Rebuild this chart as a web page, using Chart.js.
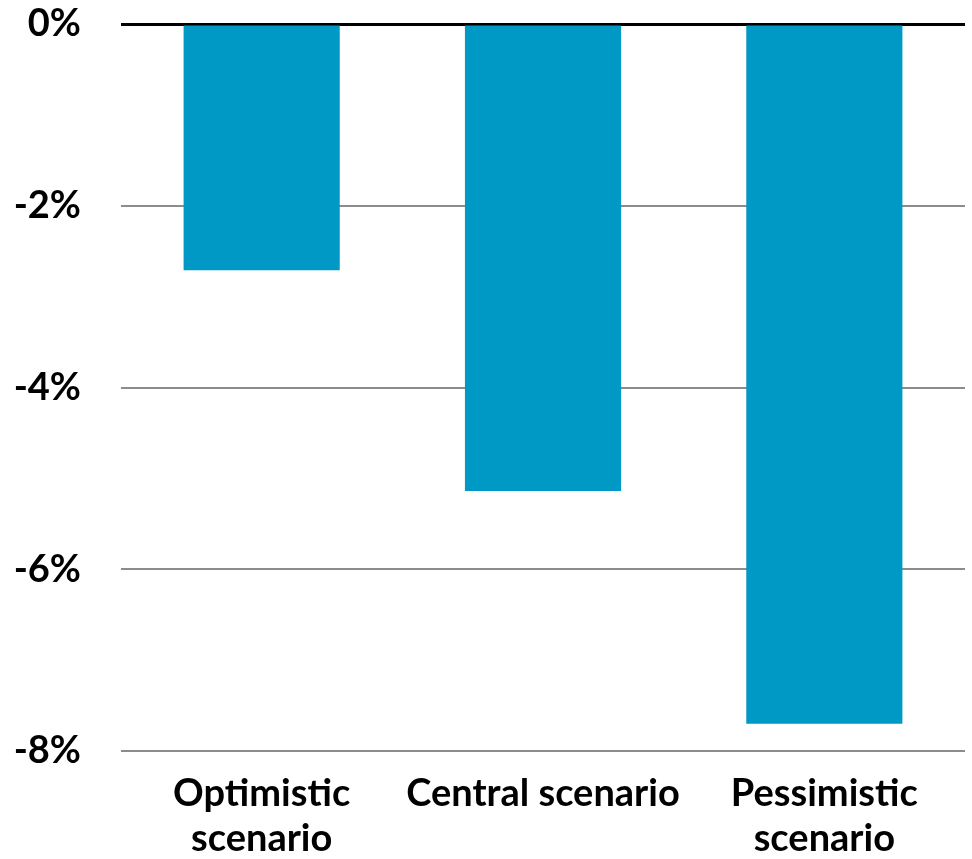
<!DOCTYPE html>
<html>
<head>
<meta charset="utf-8">
<script src="https://cdn.jsdelivr.net/npm/chart.js@4"></script>
<style>
  html, body { margin: 0; padding: 0; background: #fff; }
  #wrap { width: 972px; height: 859px; position: relative; }
</style>
</head>
<body>
<div id="wrap"><canvas id="c"></canvas></div>
<script>
// Scenario categories (multi-line labels)
const scenarios = [["Optimistic", "scenario"], "Central scenario", ["Pessimistic", "scenario"]];
// Change in percent
const changes = [-2.71, -5.14, -7.70];
// Y axis bounds and step
const yMin = -8, yMax = 0, yStep = 2;

const xFont = { family: "Lato, 'Open Sans', sans-serif", size: 38, weight: "bold", lineHeight: 45 / 38 };
const yFont = { family: "Lato, 'Open Sans', sans-serif", size: 38, weight: "bold", lineHeight: 1 };

new Chart(document.getElementById("c"), {
  type: "bar",
  data: {
    labels: scenarios,
    datasets: [{
      data: changes,
      backgroundColor: "#0099c5",
      borderWidth: 0,
      barPercentage: 0.555,
      categoryPercentage: 1.0
    }]
  },
  options: {
    responsive: true,
    maintainAspectRatio: false,
    animation: false,
    layout: { padding: { top: 24, right: 7, bottom: 0, left: 0 } },
    plugins: { legend: { display: false }, tooltip: { enabled: false } },
    scales: {
      x: {
        grid: { display: false, drawTicks: false },
        border: { display: false },
        afterFit: (s) => { s.height = 108; },
        ticks: { color: "#000", font: xFont, padding: 20, maxRotation: 0, autoSkip: false }
      },
      y: {
        min: yMin,
        max: yMax,
        afterFit: (s) => { s.width = 121; s.paddingTop = 0; s.paddingBottom = 0; },
        grid: {
          drawTicks: false,
          color: (ctx) => ctx.tick && ctx.tick.value === 0 ? "#000" : "#8c8c8c",
          lineWidth: (ctx) => ctx.tick && ctx.tick.value === 0 ? 3 : 2
        },
        border: { display: false },
        ticks: {
          stepSize: yStep,
          color: "#000",
          font: yFont,
          padding: 40,
          callback: (v) => v + "%"
        }
      }
    }
  }
});
</script>
</body>
</html>
